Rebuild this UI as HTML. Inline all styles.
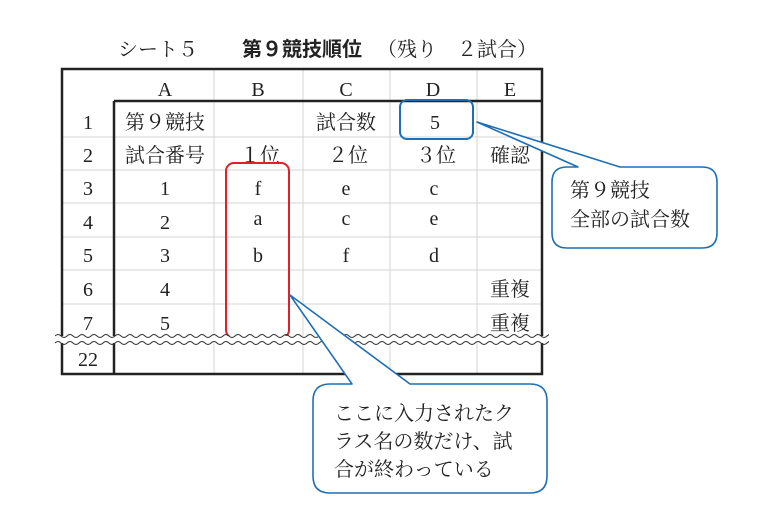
<!DOCTYPE html>
<html><head><meta charset="utf-8"><style>
html,body{margin:0;padding:0;background:#fff;}
svg{display:block;}
text{font-family:"Liberation Serif","Noto Serif CJK SC","Noto Serif CJK JP",serif;font-size:20px;fill:#222;}
.g{font-family:"Liberation Sans","Noto Sans CJK JP",sans-serif;font-weight:bold;}
</style></head><body>
<svg width="769" height="528" viewBox="0 0 769 528" xmlns="http://www.w3.org/2000/svg">
<defs><clipPath id="c"><rect x="55" y="320" width="494" height="40"/></clipPath></defs>
<text x="118" y="56" font-size="21">シート５</text>
<text x="242" y="56" class="g" font-size="21">第９競技順位</text>
<text x="377" y="56" font-size="21">（残り　２試合）</text>

<g stroke="#d4d4d4" stroke-width="1">
<line x1="62" y1="137" x2="542" y2="137"/>
<line x1="62" y1="170" x2="542" y2="170"/>
<line x1="62" y1="203" x2="542" y2="203"/>
<line x1="62" y1="237" x2="542" y2="237"/>
<line x1="62" y1="270" x2="542" y2="270"/>
<line x1="62" y1="304" x2="542" y2="304"/>
<line x1="214" y1="69" x2="214" y2="374"/>
<line x1="303" y1="69" x2="303" y2="374"/>
<line x1="390" y1="69" x2="390" y2="374"/>
<line x1="477" y1="69" x2="477" y2="374"/>
</g>
<g stroke="#222" stroke-width="2.5" fill="none">
<rect x="62" y="69" width="480" height="305"/>
<line x1="114" y1="101" x2="542" y2="101"/>
<line x1="114" y1="101" x2="114" y2="374"/>
</g>

<g text-anchor="middle">
<text x="165" y="96">A</text><text x="258" y="96">B</text><text x="346" y="96">C</text><text x="433" y="96">D</text><text x="510" y="96">E</text>
<text x="88" y="129">1</text><text x="88" y="162">2</text><text x="88" y="195">3</text><text x="88" y="229">4</text><text x="88" y="262">5</text><text x="88" y="296">6</text><text x="88" y="330">7</text><text x="88" y="366">22</text>
<text x="165" y="129">第９競技</text><text x="346" y="129">試合数</text><text x="435" y="129">5</text>
<text x="165" y="162">試合番号</text><text x="260" y="162">１位</text><text x="348" y="162">２位</text><text x="436" y="162">３位</text><text x="510" y="162">確認</text>
<text x="165" y="195">1</text><text x="258" y="195">f</text><text x="346" y="195">e</text><text x="434" y="195">c</text>
<text x="165" y="229">2</text><text x="258" y="225">a</text><text x="346" y="225">c</text><text x="434" y="225">e</text>
<text x="165" y="262">3</text><text x="258" y="262">b</text><text x="346" y="262">f</text><text x="434" y="262">d</text>
<text x="165" y="296">4</text><text x="510" y="296">重複</text>
<text x="165" y="330">5</text><text x="510" y="330">重複</text>
</g>

<rect x="226" y="163" width="63" height="175" rx="8" fill="none" stroke="#e0202a" stroke-width="2"/>

<rect x="55" y="336" width="494" height="7" fill="#fff"/>
<g fill="none" stroke="#333" stroke-width="1" clip-path="url(#c)">
<path id="w1" d="M55 336 q3 -3 6 0 t6 0 t6 0 t6 0 t6 0 t6 0 t6 0 t6 0 t6 0 t6 0 t6 0 t6 0 t6 0 t6 0 t6 0 t6 0 t6 0 t6 0 t6 0 t6 0 t6 0 t6 0 t6 0 t6 0 t6 0 t6 0 t6 0 t6 0 t6 0 t6 0 t6 0 t6 0 t6 0 t6 0 t6 0 t6 0 t6 0 t6 0 t6 0 t6 0 t6 0 t6 0 t6 0 t6 0 t6 0 t6 0 t6 0 t6 0 t6 0 t6 0 t6 0 t6 0 t6 0 t6 0 t6 0 t6 0 t6 0 t6 0 t6 0 t6 0 t6 0 t6 0 t6 0 t6 0 t6 0 t6 0 t6 0 t6 0 t6 0 t6 0 t6 0 t6 0 t6 0 t6 0 t6 0 t6 0 t6 0 t6 0 t6 0 t6 0 t6 0 t6 0 t6 0 t6 0 t6 0 t6 0 t6 0 t6 0 t6 0 t6 0 t6 0 t6 0"/>
<use href="#w1" y="7"/>
</g>

<rect x="400" y="100" width="73" height="39" rx="7" fill="none" stroke="#1f6fb2" stroke-width="2"/>

<path d="M578 167 L477 122 L620 167 L702 167 Q717 167 717 182 L717 233 Q717 248 702 248 L567 248 Q552 248 552 233 L552 182 Q552 167 567 167 Z" fill="#fff" stroke="#1f6fb2" stroke-width="1.6" stroke-linejoin="round"/>
<text x="570" y="197">第９競技</text>
<text x="570" y="226">全部の試合数</text>

<path d="M352 384 L290 295 L410 384 L530 384 Q547 384 547 401 L547 476 Q547 493 530 493 L330 493 Q313 493 313 476 L313 401 Q313 384 330 384 Z" fill="#fff" stroke="#1f6fb2" stroke-width="1.6" stroke-linejoin="round"/>
<text x="334" y="420">ここに入力されたク</text>
<text x="334" y="448">ラス名の数だけ、試</text>
<text x="334" y="476">合が終わっている</text>
</svg>
</body></html>
